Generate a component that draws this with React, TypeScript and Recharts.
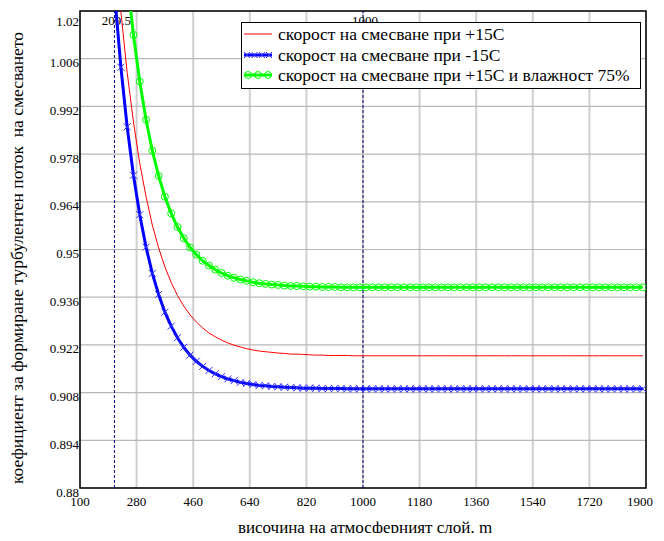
import { LineChart, Line, XAxis, YAxis, CartesianGrid, ReferenceLine, ReferenceArea } from 'recharts';

const FONT = "'Liberation Serif', 'Times New Roman', serif";

// height of the atmospheric layer, m
const heights = [
  210, 230, 250, 270, 290, 310, 330, 350, 370, 390,
  410, 430, 450, 470, 490, 510, 530, 550, 570, 590,
  610, 630, 650, 670, 690, 710, 730, 750, 770, 790,
  810, 830, 850, 870, 890, 910, 930, 950, 970, 990,
  1010, 1030, 1050, 1070, 1090, 1110, 1130, 1150, 1170, 1190,
  1210, 1230, 1250, 1270, 1290, 1310, 1330, 1350, 1370, 1390,
  1410, 1430, 1450, 1470, 1490, 1510, 1530, 1550, 1570, 1590,
  1610, 1630, 1650, 1670, 1690, 1710, 1730, 1750, 1770, 1790,
  1810, 1830, 1850, 1870, 1890,
];

// +15C
const warmMixing = [
  1.0414, 1.0198, 1.002, 0.9874, 0.9753, 0.9655, 0.9572, 0.9505, 0.9449, 0.9403,
  0.9365, 0.9334, 0.9308, 0.9287, 0.927, 0.9255, 0.9244, 0.9234, 0.9226, 0.9219,
  0.9214, 0.9209, 0.9205, 0.9202, 0.92, 0.9198, 0.9196, 0.9195, 0.9193, 0.9193,
  0.9192, 0.9191, 0.919, 0.919, 0.9189, 0.9189, 0.9189, 0.9189, 0.9188, 0.9188,
  0.9188, 0.9188, 0.9188, 0.9188, 0.9188, 0.9188, 0.9188, 0.9188, 0.9188, 0.9188,
  0.9188, 0.9188, 0.9188, 0.9188, 0.9188, 0.9188, 0.9188, 0.9188, 0.9188, 0.9188,
  0.9188, 0.9188, 0.9188, 0.9188, 0.9188, 0.9188, 0.9188, 0.9188, 0.9188, 0.9188,
  0.9188, 0.9188, 0.9188, 0.9188, 0.9188, 0.9188, 0.9188, 0.9188, 0.9188, 0.9188,
  0.9188, 0.9188, 0.9188, 0.9188, 0.9188,
];

// -15C
const coldMixing = [
  1.025, 1.0035, 0.986, 0.9718, 0.9602, 0.9507, 0.943, 0.9368, 0.9316, 0.9275,
  0.9241, 0.9213, 0.919, 0.9172, 0.9157, 0.9145, 0.9135, 0.9127, 0.912, 0.9115,
  0.911, 0.9107, 0.9104, 0.9101, 0.91, 0.9098, 0.9097, 0.9096, 0.9095, 0.9094,
  0.9093, 0.9093, 0.9093, 0.9092, 0.9092, 0.9092, 0.9092, 0.9091, 0.9091, 0.9091,
  0.9091, 0.9091, 0.9091, 0.9091, 0.9091, 0.9091, 0.9091, 0.9091, 0.9091, 0.9091,
  0.9091, 0.9091, 0.9091, 0.9091, 0.9091, 0.9091, 0.9091, 0.9091, 0.9091, 0.9091,
  0.9091, 0.9091, 0.9091, 0.9091, 0.9091, 0.9091, 0.9091, 0.9091, 0.9091, 0.9091,
  0.9091, 0.9091, 0.9091, 0.9091, 0.9091, 0.9091, 0.9091, 0.9091, 0.9091, 0.9091,
  0.9091, 0.9091, 0.9091, 0.9091, 0.9091,
];

// +15C, humidity 75%
const humidMixing = [
  1.0758, 1.0505, 1.0298, 1.013, 0.9993, 0.9881, 0.979, 0.9716, 0.9655, 0.9606,
  0.9566, 0.9533, 0.9506, 0.9485, 0.9467, 0.9453, 0.9441, 0.9431, 0.9423, 0.9417,
  0.9412, 0.9408, 0.9404, 0.9401, 0.9399, 0.9397, 0.9396, 0.9394, 0.9393, 0.9393,
  0.9392, 0.9391, 0.9391, 0.939, 0.939, 0.939, 0.9389, 0.9389, 0.9389, 0.9389,
  0.9389, 0.9389, 0.9389, 0.9389, 0.9389, 0.9389, 0.9389, 0.9389, 0.9389, 0.9389,
  0.9389, 0.9389, 0.9389, 0.9389, 0.9389, 0.9389, 0.9389, 0.9389, 0.9389, 0.9389,
  0.9389, 0.9389, 0.9389, 0.9389, 0.9389, 0.9389, 0.9389, 0.9389, 0.9389, 0.9389,
  0.9389, 0.9389, 0.9389, 0.9389, 0.9389, 0.9389, 0.9389, 0.9389, 0.9389, 0.9389,
  0.9389, 0.9389, 0.9389, 0.9389, 0.9389,
];

const xTicks = [100, 280, 460, 640, 820, 1000, 1180, 1360, 1540, 1720, 1900];
const yTicks = [0.88, 0.894, 0.908, 0.922, 0.936, 0.95, 0.964, 0.978, 0.992, 1.006, 1.02];
const markerLines = [209.5, 1000];

const legendLabels = [
  'скорост на смесване при +15C',
  'скорост на смесване при -15C',
  'скорост на смесване при +15C и влажност 75%',
];

const data = heights.map((h, i) => ({
  h,
  warm: warmMixing[i],
  cold: coldMixing[i],
  humid: humidMixing[i],
}));

const YTick = (props: any) => (
  <text x={71} y={props.y + 4} textAnchor="end" dominantBaseline="central" fontSize={13} style={{ fontFamily: FONT }} fill="#000">
    {props.payload.value}
  </text>
);

const XTick = (props: any) => (
  <text x={props.x} y={493} textAnchor="middle" dominantBaseline="central" fontSize={13} style={{ fontFamily: FONT }} fill="#000">
    {props.payload.value}
  </text>
);

const crossDot = (props: any) => {
  const { cx, cy, index } = props;
  if (cx == null || cy == null) return <g key={`x${index}`} />;
  const s = 3.5;
  return (
    <path
      key={`x${index}`}
      d={`M${cx - s},${cy - s}L${cx + s},${cy + s}M${cx - s},${cy + s}L${cx + s},${cy - s}`}
      stroke="#3030ff"
      strokeWidth={1}
      fill="none"
    />
  );
};

const circleDot = (props: any) => {
  const { cx, cy, index } = props;
  if (cx == null || cy == null) return <g key={`o${index}`} />;
  return <circle key={`o${index}`} cx={cx} cy={cy} r={3.5} stroke="#00ff00" strokeWidth={1} fill="none" />;
};

const markerLabel = (text: string) => (props: any) => {
  const vb = props.viewBox || {};
  return (
    <text x={(vb.x ?? 0) + 2} y={(vb.y ?? 0) + 9} textAnchor="middle" dominantBaseline="central" fontSize={13} style={{ fontFamily: FONT }} fill="#000">
      {text}
    </text>
  );
};

function LegendSample({ kind }: { kind: number }) {
  return (
    <svg width={30} height={20} style={{ display: 'block' }}>
      {kind === 0 && <line x1={1} y1={10} x2={29} y2={10} stroke="#ff0000" strokeWidth={1} />}
      {kind === 1 && (
        <g>
          <line x1={1} y1={10} x2={29} y2={10} stroke="#0000ff" strokeWidth={3} />
          {[4, 11.5, 19, 26].map((c) => (
            <path key={c} d={`M${c - 3},7L${c + 3},13M${c - 3},13L${c + 3},7`} stroke="#3030ff" strokeWidth={1} />
          ))}
        </g>
      )}
      {kind === 2 && (
        <g>
          <line x1={1} y1={10} x2={29} y2={10} stroke="#00ff00" strokeWidth={3} />
          {[5, 15, 25].map((c) => (
            <circle key={c} cx={c} cy={10} r={3.5} stroke="#00ff00" strokeWidth={1} fill="none" />
          ))}
        </g>
      )}
    </svg>
  );
}

export default function App() {
  return (
    <div style={{ position: 'relative', width: 648, height: 525, fontFamily: FONT }}>
      <LineChart width={648} height={525} data={data} margin={{ top: 3, right: 10, bottom: 0, left: 0 }}>
        <CartesianGrid horizontal={false} stroke="#d0d0d0" strokeWidth={2} />
        <CartesianGrid vertical={false} stroke="#b8b8b8" strokeWidth={1.2} />
        <XAxis
          dataKey="h"
          type="number"
          domain={[100, 1900]}
          ticks={xTicks}
          allowDataOverflow
          tickLine={false}
          axisLine={false}
          height={45}
          tick={<XTick />}
        />
        <YAxis
          type="number"
          domain={[0.88, 1.02]}
          ticks={yTicks}
          allowDataOverflow
          tickLine={false}
          axisLine={false}
          width={72}
          tick={<YTick />}
        />
        <ReferenceArea x1={100} x2={1900} y1={0.88} y2={1.02} fill="none" stroke="#000" strokeWidth={1.5} fillOpacity={0} />
        {markerLines.map((m) => (
          <ReferenceLine
            key={m}
            x={m}
            stroke="#000080"
            strokeDasharray="3 2"
            strokeWidth={1}
            label={markerLabel(String(m))}
          />
        ))}
        <Line type="linear" dataKey="humid" stroke="#00ff00" strokeWidth={3} dot={circleDot} isAnimationActive={false} />
        <Line type="linear" dataKey="warm" stroke="#ff0000" strokeWidth={1} dot={false} isAnimationActive={false} />
        <Line type="linear" dataKey="cold" stroke="#0000ff" strokeWidth={3} dot={crossDot} isAnimationActive={false} />
      </LineChart>

      <div
        style={{
          position: 'absolute',
          left: 233,
          top: 14,
          width: 400,
          height: 67,
          boxSizing: 'border-box',
          border: '1px solid #000',
          background: '#fff',
          paddingTop: 1,
        }}
      >
        {legendLabels.map((label, i) => (
          <div key={label} style={{ display: 'flex', alignItems: 'center', height: 20.6 }}>
            <div style={{ marginLeft: 1, width: 35 }}>
              <LegendSample kind={i} />
            </div>
            <span style={{ fontSize: 17.5, lineHeight: '20px', whiteSpace: 'nowrap', color: '#000' }}>{label}</span>
          </div>
        ))}
      </div>

      <div
        style={{
          position: 'absolute',
          left: 9,
          top: 250,
          transform: 'translate(-50%, -50%) rotate(-90deg)',
          fontSize: 17.5,
          lineHeight: '18px',
          whiteSpace: 'pre',
          color: '#000',
        }}
      >
        коефициент за формиране турбулентен поток  на смесването
      </div>
      <div
        style={{
          position: 'absolute',
          left: 357,
          top: 520,
          transform: 'translate(-50%, -50%)',
          fontSize: 17,
          lineHeight: '18px',
          whiteSpace: 'nowrap',
          color: '#000',
        }}
      >
        височина на атмосферният слой, m
      </div>
    </div>
  );
}
